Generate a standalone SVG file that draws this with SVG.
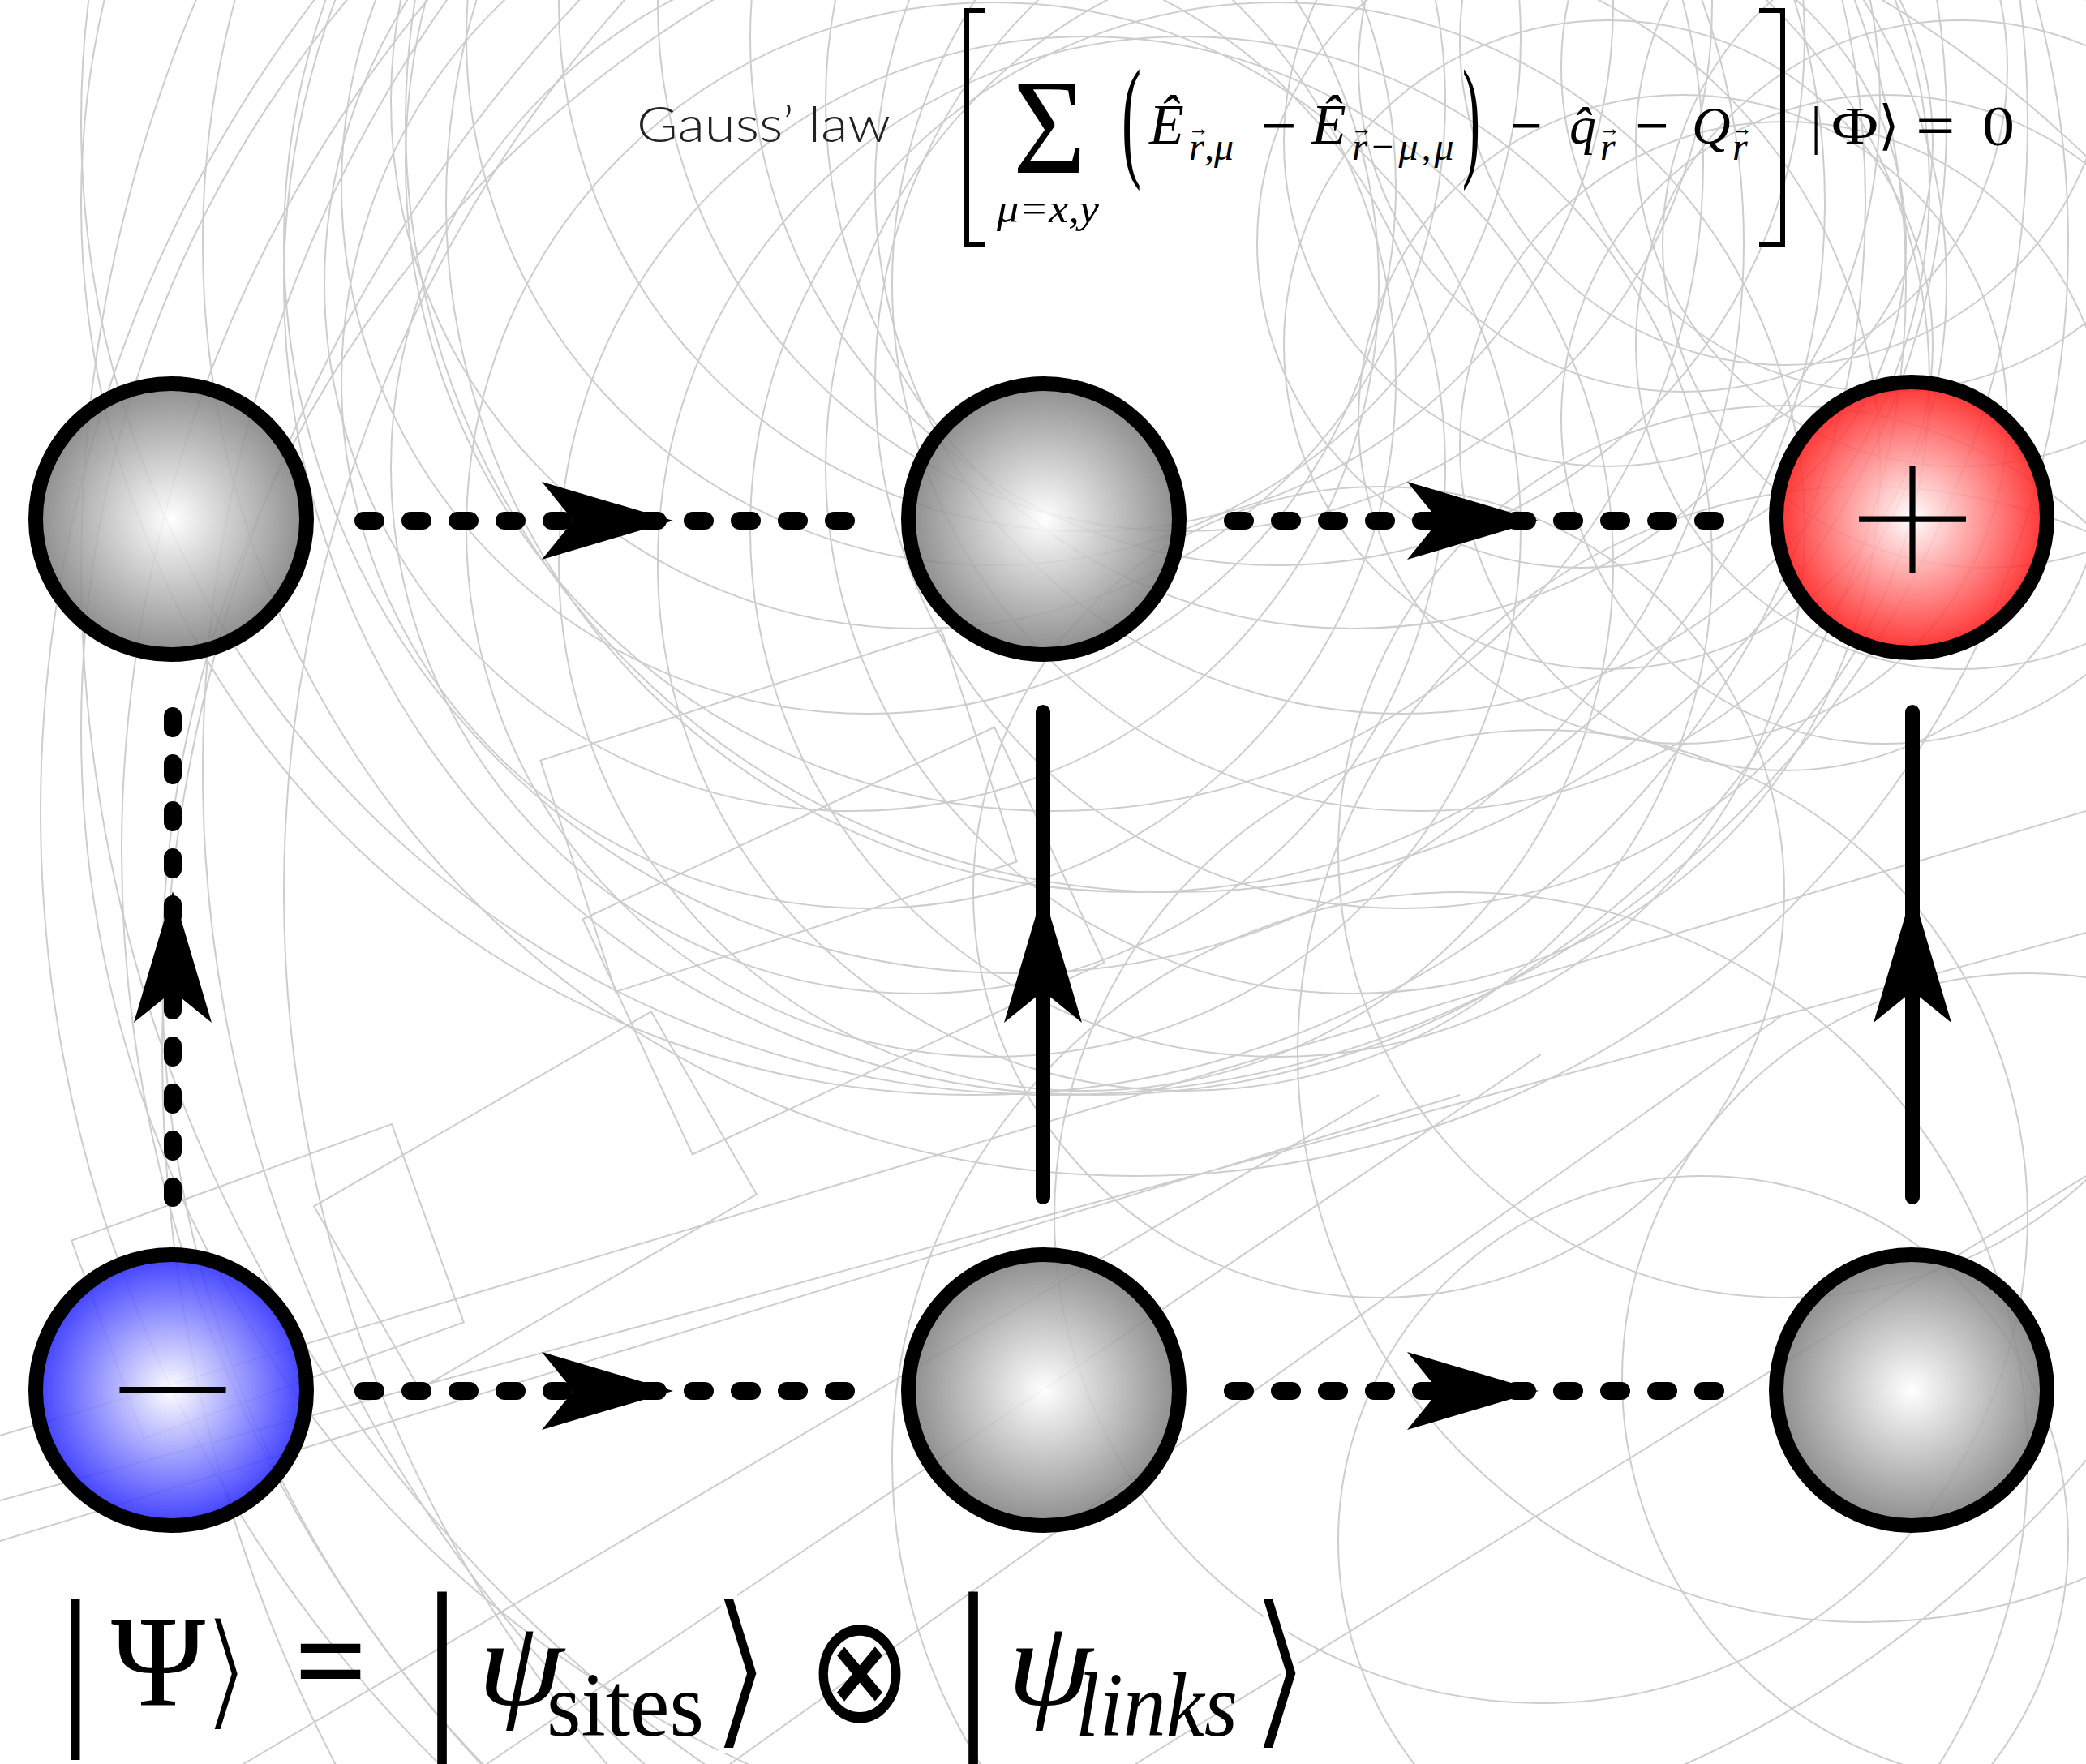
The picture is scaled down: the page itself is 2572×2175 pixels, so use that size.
<svg xmlns="http://www.w3.org/2000/svg" width="2572" height="2175" viewBox="0 0 2572 2175">
<defs>
<style>
.bg{fill:none;stroke:#cdcdcd;stroke-width:2}
.node{stroke:#000;stroke-width:18;fill-opacity:0.86}
.dash{fill:none;stroke:#000;stroke-width:22;stroke-linecap:round;stroke-dasharray:15 43}
.solid{fill:none;stroke:#000;stroke-width:18;stroke-linecap:round}
.delim{fill:none;stroke:#000;stroke-width:6}
.m{font-family:"Liberation Serif","Times New Roman",serif;fill:#000}
.i{font-style:italic}
.vec{font-style:normal;font-size:26px}
.sub{font-size:48px}
.sans{font-family:"Lato","Liberation Sans",sans-serif;font-weight:300;fill:#222}
.dj{font-family:"DejaVu Sans",sans-serif;fill:#000}
.djl{font-family:"DejaVu Sans",sans-serif;fill:#000;stroke:#fff;stroke-width:6}
.sign{font-family:"Inter","Lato","Liberation Sans",sans-serif;font-weight:100;fill:#000}
</style>
<radialGradient id="gGray" cx="0.5" cy="0.5" r="0.5"><stop offset="0" stop-color="#ffffff"/><stop offset="1" stop-color="#7a7a7a"/></radialGradient>
<radialGradient id="gRed" cx="0.5" cy="0.5" r="0.5"><stop offset="0" stop-color="#ffffff"/><stop offset="1" stop-color="#ff1010"/></radialGradient>
<radialGradient id="gBlue" cx="0.5" cy="0.5" r="0.5"><stop offset="0" stop-color="#ffffff"/><stop offset="1" stop-color="#2020ff"/></radialGradient>
<path id="ah" d="M0,0 L-162,-48 L-123,0 L-162,48 Z" fill="#000"/>
</defs>
<rect width="2572" height="2175" fill="#fff"/>
<g id="background">
<circle class="bg" cx="1750" cy="350" r="650"/><circle class="bg" cx="1729" cy="470" r="650"/><circle class="bg" cx="1668" cy="575" r="650"/><circle class="bg" cx="1575" cy="653" r="650"/><circle class="bg" cx="1461" cy="695" r="650"/><circle class="bg" cx="1339" cy="695" r="650"/><circle class="bg" cx="1225" cy="653" r="650"/><circle class="bg" cx="1132" cy="575" r="650"/><circle class="bg" cx="1071" cy="470" r="650"/><circle class="bg" cx="1050" cy="350" r="650"/><circle class="bg" cx="1071" cy="230" r="650"/><circle class="bg" cx="1132" cy="125" r="650"/><circle class="bg" cx="1225" cy="47" r="650"/><circle class="bg" cx="1339" cy="5" r="650"/><circle class="bg" cx="1461" cy="5" r="650"/><circle class="bg" cx="1575" cy="47" r="650"/><circle class="bg" cx="1668" cy="125" r="650"/><circle class="bg" cx="1729" cy="230" r="650"/>
<circle class="bg" cx="2450" cy="300" r="400"/><circle class="bg" cx="2417" cy="425" r="400"/><circle class="bg" cx="2325" cy="517" r="400"/><circle class="bg" cx="2200" cy="550" r="400"/><circle class="bg" cx="2075" cy="517" r="400"/><circle class="bg" cx="1983" cy="425" r="400"/><circle class="bg" cx="1950" cy="300" r="400"/><circle class="bg" cx="1983" cy="175" r="400"/><circle class="bg" cx="2075" cy="83" r="400"/><circle class="bg" cx="2200" cy="50" r="400"/><circle class="bg" cx="2325" cy="83" r="400"/><circle class="bg" cx="2417" cy="175" r="400"/>
<circle class="bg" cx="1700" cy="1000" r="1650"/><circle class="bg" cx="1800" cy="1050" r="1650"/><circle class="bg" cx="1900" cy="950" r="1650"/><circle class="bg" cx="2000" cy="1100" r="1650"/><circle class="bg" cx="1500" cy="900" r="1400"/><circle class="bg" cx="1600" cy="1200" r="1400"/><circle class="bg" cx="1900" cy="700" r="1800"/><circle class="bg" cx="2100" cy="1300" r="1900"/>
<circle class="bg" cx="1300" cy="200" r="800"/><circle class="bg" cx="1400" cy="250" r="850"/><circle class="bg" cx="1250" cy="300" r="900"/><circle class="bg" cx="1450" cy="150" r="950"/><circle class="bg" cx="1350" cy="350" r="1000"/><circle class="bg" cx="1200" cy="250" r="1100"/><circle class="bg" cx="1400" cy="300" r="1150"/><circle class="bg" cx="1300" cy="150" r="1200"/>
<circle class="bg" cx="2300" cy="1300" r="700"/><circle class="bg" cx="1900" cy="1500" r="600"/><circle class="bg" cx="2500" cy="1700" r="500"/><circle class="bg" cx="2100" cy="1900" r="450"/><circle class="bg" cx="1700" cy="1100" r="500"/><circle class="bg" cx="2200" cy="1050" r="550"/><circle class="bg" cx="1800" cy="1800" r="700"/>
<path class="bg" d="M0,1770 L2572,1000 M0,1850 L2572,1150 M0,1900 L1800,1350 M300,2175 L1700,1350 M600,2175 L1900,1300 M900,2175 L2200,1250 M1400,2175 L2572,1450"/>
<rect class="bg" x="700" y="850" width="520" height="300" transform="rotate(-18 960 1000)"/>
<rect class="bg" x="760" y="1000" width="560" height="320" transform="rotate(-25 1040 1160)"/>
<rect class="bg" x="120" y="1450" width="420" height="260" transform="rotate(-20 330 1580)"/>
<rect class="bg" x="420" y="1350" width="480" height="260" transform="rotate(-30 660 1480)"/>
</g>
<g id="connectors">
<path class="dash" d="M448,642 H1046"/>
<use href="#ah" transform="translate(830,642)"/>
<path class="dash" d="M1520,642 H2115"/>
<use href="#ah" transform="translate(1897,642)"/>
<path class="dash" d="M448,1715 H1046"/>
<use href="#ah" transform="translate(830,1715)"/>
<path class="dash" d="M1520,1715 H2115"/>
<use href="#ah" transform="translate(1897,1715)"/>
<path class="dash" d="M213,883 V1477"/>
<use href="#ah" transform="translate(213,1099) rotate(-90)"/>
<path class="solid" d="M1286,1476 V878"/>
<use href="#ah" transform="translate(1286,1099) rotate(-90)"/>
<path class="solid" d="M2358,1476 V878"/>
<use href="#ah" transform="translate(2358,1099) rotate(-90)"/>
</g>
<g id="node-top-left"><circle class="node" cx="211" cy="640" r="167" fill="url(#gGray)"/></g>
<g id="node-top-middle"><circle class="node" cx="1287" cy="640" r="167" fill="url(#gGray)"/></g>
<g id="node-top-right"><circle class="node" cx="2357" cy="638" r="167" fill="url(#gRed)"/><text class="sign" x="2358" y="731" font-size="320" text-anchor="middle">+</text></g>
<g id="node-bottom-left"><circle class="node" cx="211" cy="1714" r="167" fill="url(#gBlue)"/><text class="sign" x="213" y="1804" font-size="318" text-anchor="middle">−</text></g>
<g id="node-bottom-middle"><circle class="node" cx="1287" cy="1714" r="167" fill="url(#gGray)"/></g>
<g id="node-bottom-right"><circle class="node" cx="2357" cy="1714" r="167" fill="url(#gGray)"/></g>
<g id="gauss-law">
<text class="sans" x="785" y="175" font-size="62" textLength="313" lengthAdjust="spacingAndGlyphs">Gauss’ law</text>
<path class="delim" d="M1215,13 H1192 V302 H1215 M2169,13 H2198 V302 H2169"/>
<text class="m" x="1249" y="213" font-size="168" textLength="90" lengthAdjust="spacingAndGlyphs">Σ</text>
<text class="m i" x="1229" y="274" font-size="50" textLength="126" lengthAdjust="spacingAndGlyphs">μ=x,y</text>
<text class="m" x="1383" y="200" font-size="166" textLength="24" lengthAdjust="spacingAndGlyphs">(</text>
<text class="m i" font-size="70"><tspan x="1417" y="177">Ê</tspan><tspan class="sub" x="1466" y="197">r</tspan><tspan class="vec" x="1465" y="167">→</tspan><tspan class="sub" x="1485" y="197">,μ</tspan></text>
<text class="m" x="1555" y="177" font-size="66" font-weight="bold" textLength="44" lengthAdjust="spacingAndGlyphs">−</text>
<text class="m i" font-size="70"><tspan x="1617" y="177">Ê</tspan><tspan class="sub" x="1667" y="197">r</tspan><tspan class="vec" x="1666" y="167">→</tspan><tspan class="sub" x="1688" y="197" letter-spacing="4">−μ,μ</tspan></text>
<text class="m" x="1803" y="200" font-size="166" textLength="22" lengthAdjust="spacingAndGlyphs">)</text>
<text class="m" x="1862" y="177" font-size="66" font-weight="bold" textLength="40" lengthAdjust="spacingAndGlyphs">−</text>
<text class="m i" font-size="66"><tspan x="1935" y="177">q̂</tspan><tspan class="sub" x="1973" y="197">r</tspan><tspan class="vec" x="1972" y="167">→</tspan></text>
<text class="m" x="2016" y="177" font-size="66" font-weight="bold" textLength="42" lengthAdjust="spacingAndGlyphs">−</text>
<text class="m i" font-size="66"><tspan x="2086" y="177">Q</tspan><tspan class="sub" x="2136" y="197">r</tspan><tspan class="vec" x="2135" y="167">→</tspan></text>
<text class="m" x="2239" y="177" font-size="66" text-anchor="middle">|</text>
<text class="m" x="2258" y="177" font-size="66" textLength="58" lengthAdjust="spacingAndGlyphs">Φ</text>
<text class="dj" x="2316" y="177" font-size="66">⟩</text>
<text class="m" x="2362" y="177" font-size="66" font-weight="bold" textLength="49" lengthAdjust="spacingAndGlyphs">=</text>
<text class="m" x="2444" y="179" font-size="70" textLength="40" lengthAdjust="spacingAndGlyphs">0</text>
</g>
<g id="state">
<text class="m" x="93" y="2123" font-size="218" text-anchor="middle">|</text>
<text class="m" x="137" y="2102" font-size="159" textLength="116" lengthAdjust="spacingAndGlyphs">Ψ</text>
<text class="djl" x="279" y="2114" font-size="160" text-anchor="middle">⟩</text>
<text class="m" x="363" y="2102" font-size="160" font-weight="bold" textLength="90" lengthAdjust="spacingAndGlyphs">=</text>
<text class="m" x="545" y="2126" font-size="235" text-anchor="middle">|</text>
<text class="m i" x="589" y="2102" font-size="150" textLength="106" lengthAdjust="spacingAndGlyphs">ψ</text>
<text class="m" x="674" y="2140" font-size="112" textLength="194" lengthAdjust="spacingAndGlyphs">sites</text>
<text class="djl" x="913" y="2130" font-size="213" text-anchor="middle">⟩</text>
<text class="dj" x="1060" y="2122" font-size="185" text-anchor="middle" textLength="129" lengthAdjust="spacingAndGlyphs">⊗</text>
<text class="m" x="1200" y="2126" font-size="235" text-anchor="middle">|</text>
<text class="m i" x="1242" y="2102" font-size="150" textLength="105" lengthAdjust="spacingAndGlyphs">ψ</text>
<text class="m i" x="1326" y="2140" font-size="112" textLength="200" lengthAdjust="spacingAndGlyphs">links</text>
<text class="djl" x="1578" y="2130" font-size="213" text-anchor="middle">⟩</text>
</g>
</svg>
